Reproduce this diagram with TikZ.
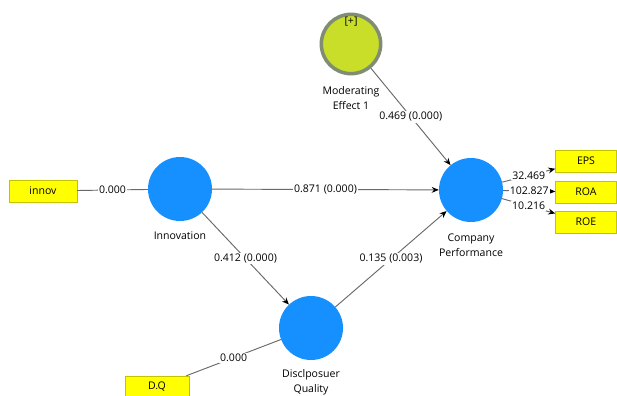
\documentclass[tikz,border=0pt]{standalone}
\usepackage{fontspec}
\setmainfont{Open Sans}
\usepackage{xcolor}
\usepackage{tikz}
\usetikzlibrary{arrows.meta,positioning}

\definecolor{plsblue}{RGB}{22,144,255}
\definecolor{plsyellow}{RGB}{255,255,0}
\definecolor{plsyellowline}{RGB}{195,195,0}
\definecolor{plsgreen}{RGB}{200,222,40}
\definecolor{plsring}{RGB}{128,140,116}
\definecolor{plsline}{RGB}{105,105,105}

\tikzset{
  latent/.style={circle, fill=plsblue, minimum size=1.92cm, inner sep=0pt},
  moder/.style={circle, fill=plsgreen, draw=plsring, line width=3pt, minimum size=1.78cm, inner sep=0pt},
  indic/.style={rectangle, fill=plsyellow, draw=plsyellowline, minimum width=1.83cm, minimum height=0.66cm, inner sep=0pt, font=\fontsize{9}{11}\selectfont},
  conn/.style={draw=plsline, line width=0.8pt, -{Stealth[black,length=6pt,width=5pt]}},
  link/.style={draw=plsline, line width=0.8pt},
  coef/.style={fill=white, inner sep=1pt, font=\fontsize{9}{11}\selectfont},
  caption/.style={align=center, font=\fontsize{9}{13}\selectfont},
}

\begin{document}
\begin{tikzpicture}[x=0.03cm, y=-0.03cm]
\useasboundingbox (0,0) rectangle (617,396);
% constructs
\node[moder] (moderating) at (351,44) {};
\node[caption] (plus) at (351,22) {[+]};
\node[caption] (modtext) at (351,98) {Moderating\\Effect 1};
\node[latent] (innovation) at (180,189) {};
\node[caption] (innotext) at (180,236) {Innovation};
\node[latent] (performance) at (471,190) {};
\node[caption] (perftext) at (471,245) {Company\\Performance};
\node[latent] (quality) at (311,328) {};
\node[caption] (qualtext) at (311,382) {Disclposuer\\Quality};
% indicators
\node[indic, minimum width=2.04cm] (innov) at (43,191) {innov};
\node[indic, minimum width=1.92cm] (dq) at (157,387) {D.Q};
\node[indic] (eps) at (586,161) {EPS};
\node[indic] (roa) at (586,192) {ROA};
\node[indic] (roe) at (586,222) {ROE};
% paths
\draw[link] (innov) -- node[coef] {0.000} (innovation);
\draw[link] (dq) -- node[coef] {0.000} (quality);
\draw[conn] (innovation) -- node[coef] {0.871 (0.000)} (performance);
\draw[conn] (innovation) -- node[coef] {0.412 (0.000)} (quality);
\draw[conn] (quality) -- node[coef] {0.135 (0.003)} (performance);
\draw[conn] (moderating) -- node[coef] {0.469 (0.000)} (performance);
\draw[conn] (performance) -- node[coef] {32.469} (eps);
\draw[conn] (performance) -- node[coef] {102.827} (roa);
\draw[conn] (performance) -- node[coef] {10.216} (roe);
\end{tikzpicture}
\end{document}
